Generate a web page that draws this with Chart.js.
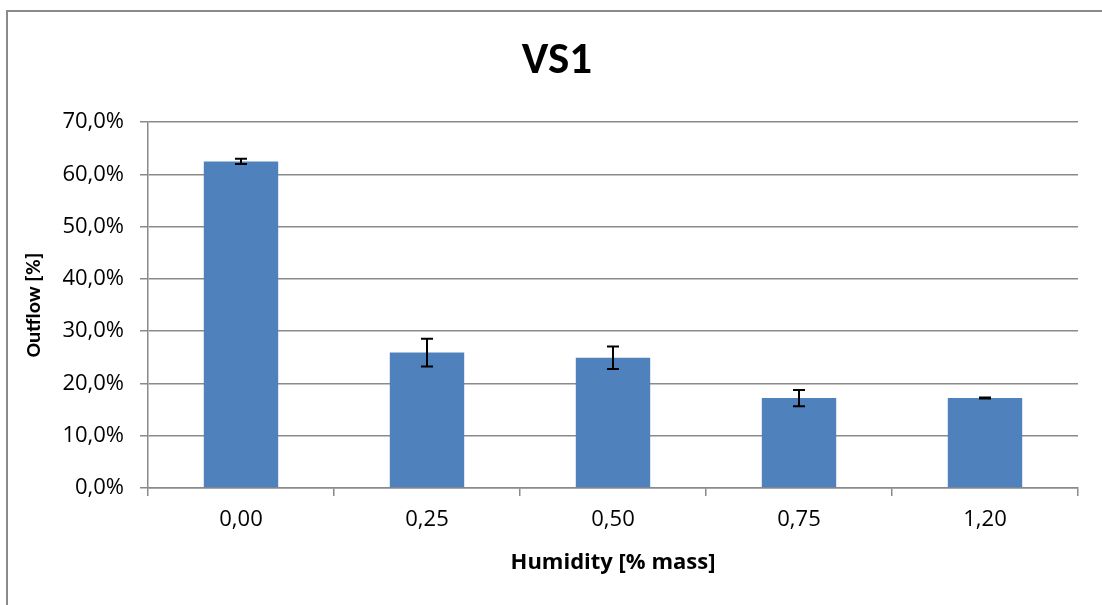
<!DOCTYPE html>
<html>
<head>
<meta charset="utf-8">
<title>VS1</title>
<script src="https://cdn.jsdelivr.net/npm/chart.js@4.4.1/dist/chart.umd.min.js"></script>
<style>
    html, body { margin: 0; padding: 0; background: #fff; }
    #wrap { position: relative; width: 1102px; height: 605px; }
</style>
</head>
<body>
<div id="wrap"><canvas id="vsChart" width="1102" height="605"></canvas></div>
<script>
// dados do gráfico
const categorias = ['0,00', '0,25', '0,50', '0,75', '1,20'];
const valoresOutflow = [62.45, 25.9, 24.9, 17.2, 17.2];
const errosOutflow = [0.5, 2.65, 2.15, 1.55, 0.1];
const ticksY = [0, 10, 20, 30, 40, 50, 60, 70];

const fonteTitulo = 'Carlito, Calibri, Lato, sans-serif';
const fonte = '"Open Sans", sans-serif';
const cinza = '#8a8a8a';

// moldura do gráfico (linha de cima e da esquerda)
const molduraPlugin = {
    id: 'moldura',
    beforeDraw(chart) {
        const ctx = chart.ctx;
        ctx.save();
        ctx.strokeStyle = cinza;
        ctx.lineWidth = 2;
        ctx.beginPath();
        ctx.moveTo(7, chart.height);
        ctx.lineTo(7, 11);
        ctx.lineTo(chart.width, 11);
        ctx.stroke();
        ctx.restore();
    }
};

// barras de erro
const errosPlugin = {
    id: 'barrasErro',
    afterDatasetsDraw(chart) {
        const ctx = chart.ctx;
        const y = chart.scales.y;
        const meta = chart.getDatasetMeta(0);
        ctx.save();
        ctx.strokeStyle = '#000';
        ctx.lineWidth = 2;
        meta.data.forEach((bar, i) => {
            const v = valoresOutflow[i];
            const e = errosOutflow[i];
            const yTop = y.getPixelForValue(v + e);
            const yBot = y.getPixelForValue(v - e);
            const x = bar.x;
            ctx.beginPath();
            ctx.moveTo(x, yTop);
            ctx.lineTo(x, yBot);
            ctx.moveTo(x - 6, yTop);
            ctx.lineTo(x + 6, yTop);
            ctx.moveTo(x - 6, yBot);
            ctx.lineTo(x + 6, yBot);
            ctx.stroke();
        });
        ctx.restore();
    }
};

new Chart(document.getElementById('vsChart'), {
    type: 'bar',
    data: {
        labels: categorias,
        datasets: [{
            label: 'Outflow',
            data: valoresOutflow,
            backgroundColor: '#4f81bd',
            borderWidth: 0,
            categoryPercentage: 1,
            barPercentage: 0.4
        }]
    },
    options: {
        responsive: false,
        animation: false,
        devicePixelRatio: 1,
        layout: { padding: { left: 36, right: 24, top: 0, bottom: 0 } },
        plugins: {
            legend: { display: false },
            tooltip: { enabled: false },
            title: {
                display: true,
                text: 'VS1',
                color: '#000',
                font: { family: fonteTitulo, size: 45, weight: 'bold', lineHeight: 1.2 },
                padding: { top: 35, bottom: 33 }
            }
        },
        scales: {
            x: {
                grid: { drawOnChartArea: false, drawTicks: true, tickLength: 8, color: cinza, lineWidth: 1.5 },
                border: { display: true, color: cinza, width: 1.5 },
                ticks: { color: '#000', font: { family: fonte, size: 22 }, padding: 11 },
                title: {
                    display: true,
                    text: 'Humidity [% mass]',
                    color: '#000',
                    font: { family: fonte, size: 22, weight: 'bold', lineHeight: 1.2 },
                    padding: { top: 0, bottom: 29 }
                },
                afterFit(scale) { scale.height = 117; }
            },
            y: {
                min: 0,
                max: 70,
                afterBuildTicks(scale) { scale.ticks = ticksY.map(v => ({ value: v })); },
                grid: { color: cinza, lineWidth: 1.5, tickLength: 8 },
                border: { display: true, color: cinza, width: 1.5 },
                ticks: {
                    color: '#000',
                    font: { family: fonte, size: 22 },
                    padding: 16,
                    callback: v => v.toFixed(1).replace('.', ',') + '%'
                },
                title: {
                    display: true,
                    text: 'Outflow [%]',
                    color: '#000',
                    font: { family: fonteTitulo, size: 21, weight: 'bold', lineHeight: 1.2 },
                    padding: { top: -14, bottom: 0 }
                },
                afterFit(scale) { scale.width = 112; }
            }
        }
    },
    plugins: [molduraPlugin, errosPlugin]
});
</script>
</body>
</html>
